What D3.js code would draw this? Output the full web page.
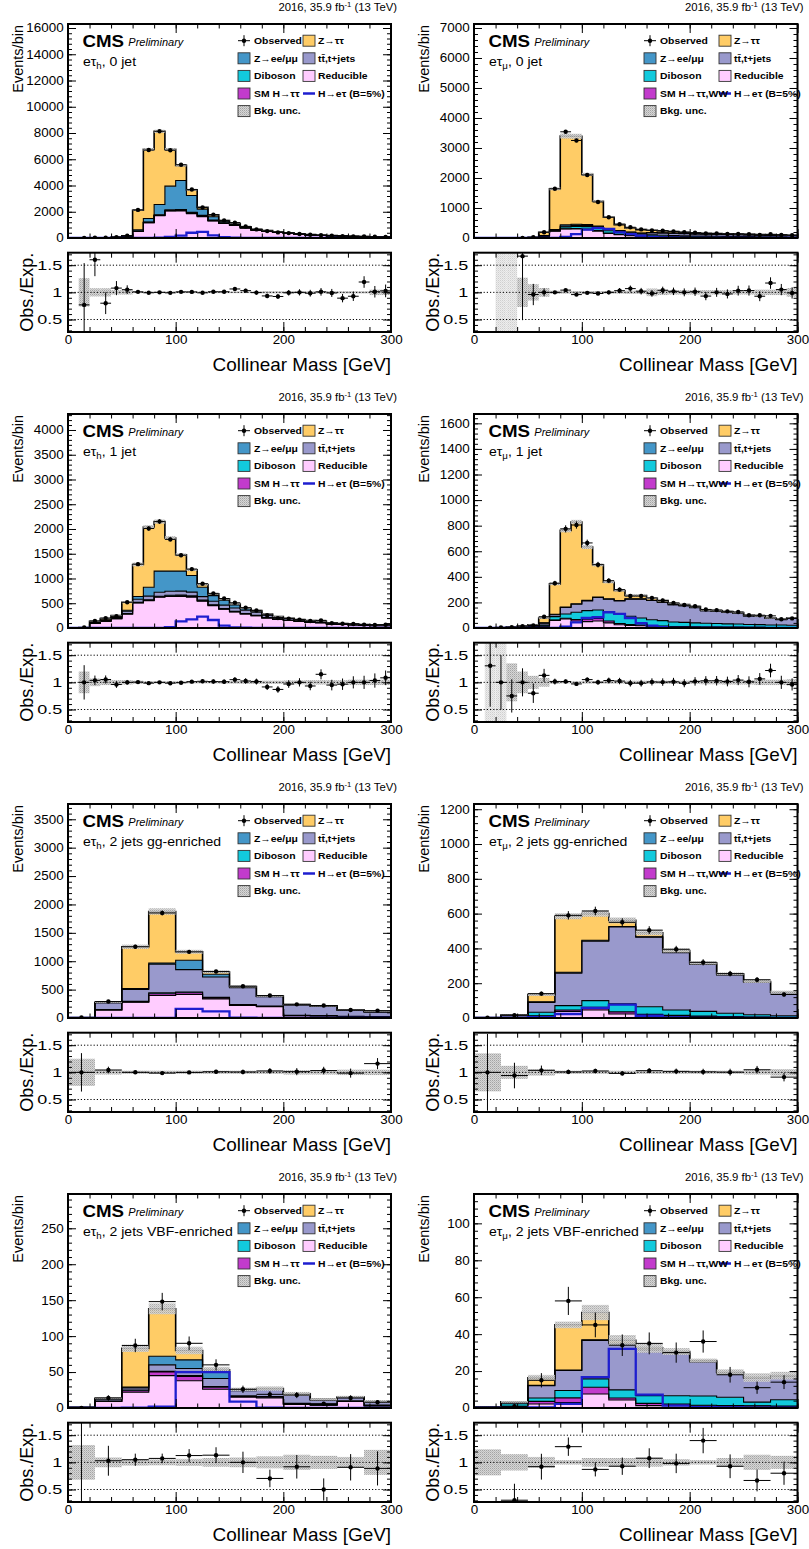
<!DOCTYPE html>
<html><head><meta charset="utf-8">
<script src="https://cdn.jsdelivr.net/npm/d3@7"></script>
<style>body{margin:0;background:#fff} svg{display:block;background:#fff}</style>
</head><body>
<script>
// ---------------- DATA ----------------
const E10=[0,10,20,30,40,50,60,70,80,90,100,110,120,130,140,150,160,170,180,190,200,210,220,230,240,250,260,270,280,290,300];
const E25=[0,25,50,75,100,125,150,175,200,225,250,275,300];

// Panel 1: e tau_h, 0 jet
const p1_red=[0,0.5,5,6,20,55,500,1170,1700,2060,2060,1860,1630,1300,1100,960,760,590,510,420,345,278,230,185,165,135,112,94,80,66];
const p1_smh=[0,0,0,0,0,0,2,5,10,20,35,40,35,25,15,8,4,3,2,1,1,1,1,0,0,0,0,0,0,0];
const p1_dib=[0,0,0.5,1,2,3,8,12,15,18,20,18,16,14,12,10,9,8,7,6,5,5,4,4,3,3,3,2,2,2];
const p1_tt =[0,0,0.5,1,2,4,15,25,40,50,50,45,40,35,30,28,25,22,20,18,15,13,12,10,9,8,7,6,5,5];
const p1_zll=[0,0.3,4,5,15,40,100,270,785,1802,2215,1277,479,246,118,70,40,25,15,10,8,6,5,4,3,3,2,2,2,1];
const p1_ztt=[0,0.5,7.5,7,25,60,1495,5268,5580,2800,1150,430,140,140,50,30,20,10,8,5,4,3,2,2,1,1,1,1,1,1];
const p1_sig=[0,0,0,0,0,0,0,0,30,90,180,400,470,200,70,25,10,5,0,0,0,0,0,0,0,0,0,0,0,0];
const p1_obs=[null,1,28,16,69,170,2140,6700,8130,6690,5580,3700,2320,1780,1340,1175,885,655,525,425,375,306,250,207,179,134,116,125,91,77];
const p1_unc=[0,0.26,0.075,0.075,0.04,0.04,0.015,0.015,0.015,0.015,0.015,0.015,0.015,0.015,0.015,0.015,0.015,0.015,0.02,0.02,0.02,0.02,0.02,0.02,0.02,0.02,0.02,0.02,0.05,0.05];

// Panel 2: e tau_mu, 0 jet
const p2_red=[0,0,0.1,0.2,0.4,8,60,230,300,300,280,230,150,110,80,60,55,48,42,36,32,30,27,25,23,21,19,18,16,15];
const p2_smh=[0,0,0,0,0,0,1,5,10,15,20,20,18,12,8,5,4,3,2,2,1,1,1,1,1,0,0,0,0,0];
const p2_dib=[0,0,0,0,0.2,2,8,20,60,70,80,80,75,65,55,45,45,42,40,36,33,31,29,27,25,24,22,21,20,19];
const p2_tt =[0,0,0,0,0,1,4,15,30,35,40,45,50,50,50,50,70,72,75,72,70,68,66,64,61,59,57,54,51,49];
const p2_zll=[0,0,0,0,0,2,7,15,40,40,30,20,12,8,5,4,6,5,4,4,3,3,3,2,2,2,2,2,2,1];
const p2_ztt=[0,0,0.2,0.3,0.6,12,110,1355,2960,2930,1670,831,385,201,137,116,80,65,52,40,33,27,22,19,16,14,12,10,9,8];
const p2_sig=[0,0,0,0,0,0,0,0,40,130,280,330,300,190,130,78,40,20,10,5,0,0,0,0,0,0,0,0,0,0];
const p2_obs=[null,null,null,null,2,24,190,1640,3540,3250,2100,1200,690,460,358,286,255,244,219,190,174,149,148,134,132,124,104,123,103,91];
const p2_unc=[0,0,1,1,0.27,0.15,0.08,0.03,0.025,0.025,0.025,0.025,0.025,0.025,0.03,0.03,0.07,0.05,0.04,0.04,0.04,0.04,0.04,0.04,0.04,0.04,0.05,0.05,0.05,0.08];

// Panel 3: e tau_h, 1 jet
const p3_red=[0,5,95,135,190,284,507,554,622,635,635,622,540,453,378,324,284,250,203,176,152,130,112,105,78,70,63,54,47,47];
const p3_smh=[0,0,0,0,0,1,3,5,8,12,15,15,12,8,5,3,2,1,1,0,0,0,0,0,0,0,0,0,0,0];
const p3_dib=[0,0,1,2,3,5,8,10,12,14,14,13,12,10,9,8,7,6,5,4,4,3,3,3,2,2,2,2,2,2];
const p3_tt =[0,2,12,15,20,48,63,75,80,82,80,75,70,69,70,70,65,60,55,40,32,30,29,22,16,13,12,9,8,8];
const p3_zll=[0,1,8,12,12,22,54,180,427,406,405,336,190,115,101,59,32,23,15,6,5,4,4,3,2,2,2,2,2,2];
const p3_ztt=[0,2,19,26,25,160,649,1216,1001,669,331,114,54,35,25,22,10,10,5,4,3,3,2,2,2,1,1,1,1,1];
const p3_sig=[0,0,0,0,0,0,0,0,3,15,135,176,230,162,47,14,5,0,0,0,0,0,0,0,0,0,0,0,0,0];
const p3_obs=[null,10,140,200,240,520,1290,2010,2150,1790,1470,1190,895,700,595,510,410,355,260,200,190,170,140,155,95,85,80,68,62,65];
const p3_unc=[0,0.2,0.07,0.05,0.04,0.04,0.03,0.02,0.02,0.02,0.02,0.02,0.02,0.02,0.025,0.025,0.03,0.03,0.03,0.03,0.035,0.035,0.04,0.04,0.04,0.04,0.05,0.05,0.05,0.05];

// Panel 4: e tau_mu, 1 jet
const p4_red=[0,1,2,3,5,7,15,60,70,55,50,55,40,25,20,18,15,12,10,9,8,7,7,6,6,5,5,4,4,4];
const p4_smh=[0,0,0,0,0,0,0,3,6,12,18,20,15,10,7,5,4,3,2,2,1,1,1,1,1,0,0,0,0,0];
const p4_dib=[0,0,1,2,4,6,8,26,34,56,68,66,73,75,65,55,46,43,35,33,31,29,27,25,24,22,21,20,19,18];
const p4_tt =[0,1.3,1,2,3,5,15,15,50,63,76,97,97,102,134,148,150,143,135,130,119,98,96,91,85,68,64,51,42,53];
const p4_zll=[0,0,0,0,0,0,2,3,4,4,4,3,3,3,2,2,2,1,1,1,1,1,1,1,1,1,1,1,1,1];
const p4_ztt=[0,0,0,1,3,7,38,238,599,639,417,253,130,78,26,26,16,12,10,8,7,5,4,4,3,3,3,2,2,2];
const p4_sig=[0,0,0,0,0,0,0,0,10,44,78,84,123,110,78,37,18,6,0,0,0,0,0,0,0,0,0,0,0,0];
const p4_obs=[null,3,4,6,15,20,88,350,775,805,665,495,370,300,250,250,235,215,195,180,170,145,140,130,125,100,100,95,68,75];
const p4_unc=[0,0.8,0.8,0.35,0.2,0.12,0.08,0.03,0.02,0.02,0.025,0.025,0.025,0.025,0.03,0.03,0.03,0.03,0.03,0.03,0.03,0.035,0.035,0.04,0.04,0.04,0.05,0.05,0.05,0.06];

// Panel 5: e tau_h, 2 jets gg-enriched
const p5_red=[4,142,278,396,414,337,219,200,40,35,25,20];
const p5_smh=[0,1,4,30,30,15,6,3,1,1,0,0];
const p5_dib=[0,4,10,18,15,12,10,8,6,5,4,3];
const p5_tt =[2,121,211,503,393,358,300,163,183,166,107,85];
const p5_zll=[0,2,15,20,166,49,11,6,4,3,3,2];
const p5_ztt=[2,8,736,909,148,40,10,5,3,3,3,2];
const p5_sig=[0,0,0,0,160,118,5,0,0,0,0,0];
const p5_obs=[8,290,1255,1850,1165,820,560,395,240,220,140,130];
const p5_unc=[0.25,0.04,0.03,0.03,0.03,0.03,0.03,0.03,0.04,0.04,0.05,0.05];

// Panel 6: e tau_mu, 2 jets gg-enriched
const p6_red=[1,2,10,38,46,23,13,10,8,6,4,3];
const p6_smh=[0,0,2,8,15,12,8,5,3,2,1,1];
const p6_dib=[0,2,21,25,39,46,44,31,27,19,14,9];
const p6_tt =[1,10,57,187,342,442,400,330,270,220,186,131];
const p6_zll=[0,1,3,5,5,3,2,2,2,2,1,1];
const p6_ztt=[0,2,42,322,153,35,23,10,7,5,4,3];
const p6_sig=[0,1,5,23,58,77,13,3,1,0,0,0];
const p6_obs=[2,16,140,590,615,550,505,395,320,255,220,135];
const p6_unc=[0.35,0.12,0.06,0.03,0.03,0.03,0.03,0.03,0.03,0.03,0.04,0.06];

// Panel 7: e tau_h, 2 jets VBF-enriched
const p7_red=[0.5,9.3,22,45,38,26,15,14,5,4,9,3];
const p7_smh=[0,0,2,5,6,3,1,1,0.5,0,0,0];
const p7_dib=[0,0,1,1,1,1,1,1,1,1,1,1];
const p7_tt =[0.5,3,3,9,10,11,7,10,12,6,4.4,4.5];
const p7_zll=[0,0.5,1,12,12,10,1,0.5,0.6,0.5,0.5,0.3];
const p7_ztt=[0,0.8,54,66,13,2,1,0.5,0.5,0.5,0.5,0.2];
const p7_sig=[0,0,0.5,2,50,50,9,0.5,0,0,0,0];
const p7_obs=[0,14,87,148,90,60,26,19,18,6,14,8];
const p7_unc=[0.32,0.09,0.06,0.055,0.065,0.08,0.09,0.11,0.14,0.12,0.1,0.23];

// Panel 8: e tau_mu, 2 jets VBF-enriched
const p8_red=[0.3,0.5,2.2,3,7.6,4.3,1.3,1.3,1,1,1,0.8];
const p8_smh=[0,0.3,1.4,2.5,3.6,1.1,1.2,0.8,0.5,0.3,0.2,0.2];
const p8_dib=[0.2,1.5,1.8,4,4.6,4.4,4.2,4.5,5,4.5,2,3.5];
const p8_tt =[0,1,6.7,10.8,20.8,25,24.8,23,18.5,13,12.8,12.5];
const p8_zll=[0,0,0.2,0.3,0.4,0.3,0.2,0.2,0.2,0.1,0.1,0.1];
const p8_ztt=[0,0,4,24.4,14.7,1.5,0.8,0.8,0.5,0.5,0.4,0.4];
const p8_sig=[0,0,0.3,2.2,16.7,32,7.2,1.3,0.5,0.3,0.2,0.2];
const p8_obs=[null,1,15,58,45,34,35,30,36,18,11,14];
const p8_unc=[0.24,0.15,0.1,0.04,0.08,0.08,0.08,0.06,0.04,0.08,0.14,0.12];

// axes ranges and ticks
const yMaxes=[16305,7133,4323,1673,3769,1230,297.7,115.9];
const yTickSets=[
  [0,2000,4000,6000,8000,10000,12000,14000,16000],
  [0,1000,2000,3000,4000,5000,6000,7000],
  [0,500,1000,1500,2000,2500,3000,3500,4000],
  [0,200,400,600,800,1000,1200,1400,1600],
  [0,500,1000,1500,2000,2500,3000,3500],
  [0,200,400,600,800,1000,1200],
  [0,50,100,150,200,250],
  [0,20,40,60,80,100]];
const yMinorSteps=[400,200,100,40,100,40,10,4];
const xTicks=[0,100,200,300];
const ratioTicks=[0.5,1,1.5];
const catLabels=[", 0 jet",", 0 jet",", 1 jet",", 1 jet",", 2 jets gg-enriched",", 2 jets gg-enriched",", 2 jets VBF-enriched",", 2 jets VBF-enriched"];
const chanSubs=["h","\u03bc","h","\u03bc","h","\u03bc","h","\u03bc"];
const legCol1=["Observed","Z\u2192ee/\u03bc\u03bc","Diboson","SM H\u2192\u03c4\u03c4","Bkg. unc."];
const legCol2=["Z\u2192\u03c4\u03c4","tt\u0304,t+jets","Reducible","H\u2192e\u03c4 (B=5%)"];
const smhLabelMu="SM H\u2192\u03c4\u03c4,WW";

// ---------------- DRAWING ----------------
const W=809,H=1549;
const FONT='"Liberation Sans", Arial, Helvetica, sans-serif';
const colors=['#ffccff','#c23bcc','#12cadd','#9999cc','#4496c8','#ffcc66'];
const colSig='#1e1ecf';
const svg=d3.select('body').append('svg').attr('width',W).attr('height',H);
const defs=svg.append('defs');
function mkPattern(id,base,d1,d2){
  const p=defs.append('pattern').attr('id',id).attr('width',2).attr('height',2).attr('patternUnits','userSpaceOnUse');
  p.append('rect').attr('width',2).attr('height',2).attr('fill',base);
  p.append('rect').attr('width',1).attr('height',1).attr('fill',d1);
  p.append('rect').attr('x',1).attr('y',1).attr('width',1).attr('height',1).attr('fill',d2);
}
mkPattern('unc','#d6d6d6','#a4a4a4','#bcbcbc');
mkPattern('uncl','#ececec','#cfcfcf','#dedede');

function txt(g,x,y,s,o){
  const t=g.append('text').attr('transform',`translate(${x},${y})${o.rot?' rotate('+o.rot+')':''} scale(${o.sx||1},1)`)
    .attr('font-family',FONT).attr('font-size',o.size).attr('text-anchor',o.anchor||'start')
    .attr('font-weight',o.weight||'normal').attr('font-style',o.style||'normal').attr('fill','#000');
  if(s!==null) t.text(s);
  return t;
}

const panels=[
 {red:p1_red,smh:p1_smh,dib:p1_dib,tt:p1_tt,zll:p1_zll,ztt:p1_ztt,sig:p1_sig,obs:p1_obs,unc:p1_unc,edges:E10},
 {red:p2_red,smh:p2_smh,dib:p2_dib,tt:p2_tt,zll:p2_zll,ztt:p2_ztt,sig:p2_sig,obs:p2_obs,unc:p2_unc,edges:E10},
 {red:p3_red,smh:p3_smh,dib:p3_dib,tt:p3_tt,zll:p3_zll,ztt:p3_ztt,sig:p3_sig,obs:p3_obs,unc:p3_unc,edges:E10},
 {red:p4_red,smh:p4_smh,dib:p4_dib,tt:p4_tt,zll:p4_zll,ztt:p4_ztt,sig:p4_sig,obs:p4_obs,unc:p4_unc,edges:E10},
 {red:p5_red,smh:p5_smh,dib:p5_dib,tt:p5_tt,zll:p5_zll,ztt:p5_ztt,sig:p5_sig,obs:p5_obs,unc:p5_unc,edges:E25},
 {red:p6_red,smh:p6_smh,dib:p6_dib,tt:p6_tt,zll:p6_zll,ztt:p6_ztt,sig:p6_sig,obs:p6_obs,unc:p6_unc,edges:E25},
 {red:p7_red,smh:p7_smh,dib:p7_dib,tt:p7_tt,zll:p7_zll,ztt:p7_ztt,sig:p7_sig,obs:p7_obs,unc:p7_unc,edges:E25},
 {red:p8_red,smh:p8_smh,dib:p8_dib,tt:p8_tt,zll:p8_zll,ztt:p8_ztt,sig:p8_sig,obs:p8_obs,unc:p8_unc,edges:E25}
];

function poissonErr(o){ return o===0?[0,1.84]:[o-Math.sqrt(o),o+Math.sqrt(o)]; }

function styleAxis(g,size,sx){
  g.select('.domain').remove();
  g.attr('font-family',FONT).attr('font-size',size||12);
  g.selectAll('line').attr('stroke','#000').attr('stroke-width',1);
  g.selectAll('text').attr('transform',`scale(${sx||1.1},1)`).attr('fill','#000');
}

panels.forEach((P,idx)=>{
  const col=idx%2,row=Math.floor(idx/2);
  const left=col===0?68:474, right=col===0?391:797.5;
  const oy=row*390;
  const mt=24+oy, mb=238+oy, rt=252.7+oy, rb=332+oy;
  const x=d3.scaleLinear().domain([0,300]).range([left,right]);
  const y=d3.scaleLinear().domain([0,yMaxes[idx]]).range([mb,mt]);
  const yr=d3.scaleLinear().domain([0.27,1.73]).range([rb,rt]);
  const E=P.edges, n=E.length-1;
  const layers=[P.red,P.smh,P.dib,P.tt,P.zll,P.ztt];
  const cum=[]; let prev=new Array(n).fill(0);
  layers.forEach(l=>{const c=prev.map((v,i)=>v+l[i]); cum.push({lo:prev,hi:c}); prev=c;});
  const tot=prev;

  const cid='cl'+idx;
  defs.append('clipPath').attr('id',cid+'m').append('rect').attr('x',left).attr('y',mt).attr('width',right-left).attr('height',mb-mt);
  defs.append('clipPath').attr('id',cid+'r').append('rect').attr('x',left).attr('y',rt).attr('width',right-left).attr('height',rb-rt);

  // ---- main panel ----
  const gm=svg.append('g').attr('clip-path',`url(#${cid}m)`);
  const area=d3.area().curve(d3.curveStepAfter).x(d=>x(d.e)).y0(d=>y(d.lo)).y1(d=>y(d.hi));
  const line=d3.line().curve(d3.curveStepAfter).x(d=>x(d[0])).y(d=>y(d[1]));
  const stepPts=arr=>{const p=arr.map((v,i)=>[E[i],v]); p.push([E[n],arr[n-1]]); return p;};
  cum.forEach((c,k)=>{
    const pts=c.hi.map((v,i)=>({e:E[i],lo:c.lo[i],hi:v})); pts.push({e:E[n],lo:c.lo[n-1],hi:c.hi[n-1]});
    gm.append('path').attr('d',area(pts)).attr('fill',colors[k]);
  });
  cum.forEach((c,k)=>{
    gm.append('path').attr('d',line(stepPts(c.hi))).attr('fill','none').attr('stroke','#000').attr('stroke-width',k===5?1.6:1.1);
  });
  const bandData=tot.map((t,i)=>({i,t,u:P.unc[i]})).filter(d=>d.t>0&&d.u>0);
  const patFor=d=>d.u>=0.5?'url(#uncl)':'url(#unc)';
  gm.selectAll('rect.band').data(bandData).join('rect')
    .attr('x',d=>x(E[d.i])).attr('width',d=>x(E[d.i+1])-x(E[d.i]))
    .attr('y',d=>y(d.t*(1+d.u))).attr('height',d=>Math.max(0,y(Math.max(0,d.t*(1-d.u)))-y(d.t*(1+d.u))))
    .attr('fill',patFor).attr('opacity',0.9);
  gm.append('path').attr('d',line(stepPts(P.sig))).attr('fill','none').attr('stroke',colSig).attr('stroke-width',2.3);
  const obsData=P.obs.map((o,i)=>({i,o})).filter(d=>d.o!==null);
  obsData.forEach(d=>{
    const xc=x((E[d.i]+E[d.i+1])/2), e=poissonErr(d.o);
    gm.append('line').attr('x1',xc).attr('x2',xc).attr('y1',y(e[0])).attr('y2',y(e[1])).attr('stroke','#000').attr('stroke-width',1);
    gm.append('line').attr('x1',x(E[d.i])).attr('x2',x(E[d.i+1])).attr('y1',y(d.o)).attr('y2',y(d.o)).attr('stroke','#000').attr('stroke-width',1);
    gm.append('circle').attr('cx',xc).attr('cy',y(d.o)).attr('r',2.2).attr('fill','#000');
  });

  // main axes
  const ymin=d3.range(0,yMaxes[idx],yMinorSteps[idx]);
  svg.append('g').attr('transform',`translate(${left},0)`).call(d3.axisLeft(y).tickValues(yTickSets[idx]).tickSize(-8).tickPadding(4).tickFormat(d3.format('d'))).call(g=>styleAxis(g,12.2,1.1));
  svg.append('g').attr('transform',`translate(${left},0)`).call(d3.axisLeft(y).tickValues(ymin).tickSize(-4).tickFormat('')).call(g=>styleAxis(g));
  svg.append('g').attr('transform',`translate(${right},0)`).call(d3.axisRight(y).tickValues(yTickSets[idx]).tickSize(-8).tickFormat('')).call(g=>styleAxis(g));
  svg.append('g').attr('transform',`translate(${right},0)`).call(d3.axisRight(y).tickValues(ymin).tickSize(-4).tickFormat('')).call(g=>styleAxis(g));
  const xmin=d3.range(0,301,20);
  [[mb,d3.axisBottom],[mt,d3.axisTop]].forEach(([yy,ax])=>{
    svg.append('g').attr('transform',`translate(0,${yy})`).call(ax(x).tickValues(xTicks).tickSize(-9).tickFormat('')).call(g=>styleAxis(g));
    svg.append('g').attr('transform',`translate(0,${yy})`).call(ax(x).tickValues(xmin).tickSize(-4.5).tickFormat('')).call(g=>styleAxis(g));
  });
  svg.append('rect').attr('x',left).attr('y',mt).attr('width',right-left).attr('height',mb-mt).attr('fill','none').attr('stroke','#000').attr('stroke-width',2);

  // ---- ratio panel ----
  const gr=svg.append('g').attr('clip-path',`url(#${cid}r)`);
  gr.selectAll('rect.rb').data(bandData).join('rect')
    .attr('x',d=>x(E[d.i])).attr('width',d=>x(E[d.i+1])-x(E[d.i]))
    .attr('y',d=>yr(1+d.u)).attr('height',d=>yr(1-d.u)-yr(1+d.u)).attr('fill',patFor);
  ratioTicks.forEach(v=>gr.append('line').attr('x1',left).attr('x2',right).attr('y1',yr(v)).attr('y2',yr(v))
    .attr('stroke','#000').attr('stroke-width',1).attr('stroke-dasharray','1.2,2'));
  obsData.filter(d=>tot[d.i]>0).forEach(d=>{
    const t=tot[d.i], r=d.o/t, e=poissonErr(d.o);
    const xc=x((E[d.i]+E[d.i+1])/2);
    gr.append('line').attr('x1',xc).attr('x2',xc).attr('y1',yr(e[0]/t)).attr('y2',yr(e[1]/t)).attr('stroke','#000').attr('stroke-width',1);
    gr.append('line').attr('x1',x(E[d.i])).attr('x2',x(E[d.i+1])).attr('y1',yr(r)).attr('y2',yr(r)).attr('stroke','#000').attr('stroke-width',1);
    gr.append('circle').attr('cx',xc).attr('cy',yr(r)).attr('r',2.2).attr('fill','#000');
  });
  const rmin=d3.range(0.3,1.75,0.1);
  svg.append('g').attr('transform',`translate(${left},0)`).call(d3.axisLeft(yr).tickValues(ratioTicks).tickSize(-8).tickPadding(4).tickFormat(d=>String(d))).call(g=>styleAxis(g,12.4,1.45));
  svg.append('g').attr('transform',`translate(${left},0)`).call(d3.axisLeft(yr).tickValues(rmin).tickSize(-4).tickFormat('')).call(g=>styleAxis(g));
  svg.append('g').attr('transform',`translate(${right},0)`).call(d3.axisRight(yr).tickValues(ratioTicks).tickSize(-8).tickFormat('')).call(g=>styleAxis(g));
  svg.append('g').attr('transform',`translate(${right},0)`).call(d3.axisRight(yr).tickValues(rmin).tickSize(-4).tickFormat('')).call(g=>styleAxis(g));
  svg.append('g').attr('transform',`translate(0,${rb})`).call(d3.axisBottom(x).tickValues(xTicks).tickSize(-10).tickPadding(3).tickFormat(d3.format('d'))).call(g=>styleAxis(g,12.2,1.1));
  svg.append('g').attr('transform',`translate(0,${rb})`).call(d3.axisBottom(x).tickValues(xmin).tickSize(-5).tickFormat('')).call(g=>styleAxis(g));
  svg.append('g').attr('transform',`translate(0,${rt})`).call(d3.axisTop(x).tickValues(xTicks).tickSize(-10).tickFormat('')).call(g=>styleAxis(g));
  svg.append('g').attr('transform',`translate(0,${rt})`).call(d3.axisTop(x).tickValues(xmin).tickSize(-5).tickFormat('')).call(g=>styleAxis(g));
  svg.append('rect').attr('x',left).attr('y',rt).attr('width',right-left).attr('height',rb-rt).attr('fill','none').attr('stroke','#000').attr('stroke-width',2);

  // ---- texts ----
  const top=txt(svg,right+6,oy+10.7,null,{size:10.3,anchor:'end',sx:1.1});
  top.append('tspan').text('2016, 35.9 fb');
  top.append('tspan').attr('font-size',7).attr('dy',-4).text('-1');
  top.append('tspan').attr('dy',4).text(' (13 TeV)');
  txt(svg,left-44.7,mt+1,'Events/bin',{size:14.5,anchor:'end',rot:-90});
  txt(svg,left-35,yr(1),'Obs./Exp.',{size:18,anchor:'middle',rot:-90});
  txt(svg,right,rb+39,'Collinear Mass [GeV]',{size:17.5,anchor:'end',sx:1.08});
  txt(svg,left+14.5,mt+22.7,'CMS',{size:17,weight:'bold',sx:1.1});
  txt(svg,left+60.3,mt+22,'Preliminary',{size:10.5,style:'italic',sx:1.05});
  const ct=txt(svg,left+15,mt+41.7,null,{size:13,sx:1.08});
  ct.append('tspan').text('e\u03c4');
  ct.append('tspan').attr('font-size',9).attr('dy',3).text(chanSubs[idx]);
  ct.append('tspan').attr('dy',-3).text(catLabels[idx]);

  // ---- legend ----
  const isMu=col===1;
  const c1=left+170, c2=left+(isMu?245:235);
  const rowY=i=>mt+16.7+17.6*i;
  const bw=12,bh=11;
  const lg=svg.append('g');
  {
    const cx=c1+bw/2, cy=rowY(0);
    lg.append('line').attr('x1',c1).attr('x2',c1+bw).attr('y1',cy).attr('y2',cy).attr('stroke','#000');
    lg.append('line').attr('x1',cx).attr('x2',cx).attr('y1',cy-bh/2).attr('y2',cy+bh/2).attr('stroke','#000');
    lg.append('circle').attr('cx',cx).attr('cy',cy).attr('r',2.2).attr('fill','#000');
  }
  const box=(xx,yy,fill)=>lg.append('rect').attr('x',xx).attr('y',yy-bh/2).attr('width',bw).attr('height',bh).attr('fill',fill).attr('stroke','#333').attr('stroke-width',0.9);
  box(c1,rowY(1),colors[4]);
  box(c1,rowY(2),colors[2]);
  box(c1,rowY(3),colors[1]);
  box(c1,rowY(4),'url(#unc)');
  box(c2,rowY(0),colors[5]);
  box(c2,rowY(1),colors[3]);
  box(c2,rowY(2),colors[0]);
  lg.append('line').attr('x1',c2).attr('x2',c2+bw).attr('y1',rowY(3)).attr('y2',rowY(3)).attr('stroke',colSig).attr('stroke-width',2.5);
  legCol1.forEach((s,i)=>{
    const label=(i===3&&isMu)?smhLabelMu:s;
    txt(lg,c1+16,rowY(i)+3.3,label,{size:9.2,weight:'bold',sx:1.13});
  });
  legCol2.forEach((s,i)=>txt(lg,c2+15,rowY(i)+3.3,s,{size:9.2,weight:'bold',sx:1.13}));
});
</script>
</body></html>
